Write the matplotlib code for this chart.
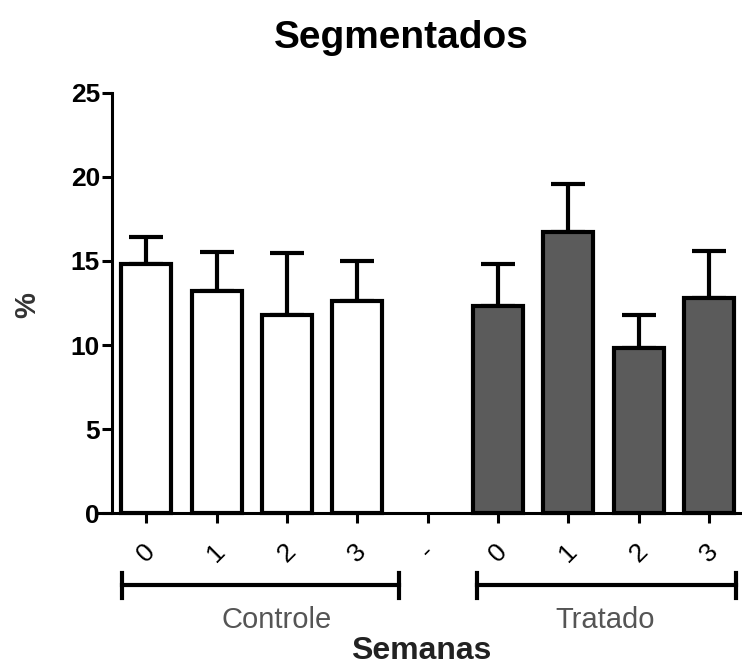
import matplotlib.pyplot as plt
import matplotlib.transforms as mtransforms

plt.rcParams['font.family'] = ['Liberation Sans', 'DejaVu Sans']

# data
semanas    = ['0', '1', '2', '3']
controle   = [14.8, 13.2, 11.8, 12.6]
controle_e = [1.6, 2.35, 3.7, 2.4]
tratado    = [12.3, 16.7, 9.8, 12.8]
tratado_e  = [2.5, 2.9, 2.0, 2.8]
tick_labels = semanas + ['-'] + semanas
yticks = [0, 5, 10, 15, 20, 25]

fig = plt.figure(figsize=(7.42, 6.66), dpi=100)
ax = fig.add_axes([0.1307, 0.2297, 0.8693, 0.6307])

# spine position first: moving it resets the ticks
for s in ['top', 'right']:
    ax.spines[s].set_visible(False)
ax.spines['left'].set_position(('data', -0.48))
ax.spines['left'].set_linewidth(2.2)
ax.spines['bottom'].set_linewidth(2.2)

xc = list(range(len(controle)))
xt = [len(controle) + 1 + i for i in range(len(tratado))]

ax.bar(xc, controle, width=0.71, color='white', edgecolor='black', linewidth=3, clip_on=False, zorder=3)
ax.bar(xt, tratado, width=0.71, color='#5b5b5b', edgecolor='black', linewidth=3, clip_on=False, zorder=3)
ax.errorbar(xc, controle, yerr=[[0] * 4, controle_e], fmt='none', ecolor='black',
            elinewidth=3, capsize=12, capthick=3, zorder=2)
ax.errorbar(xt, tratado, yerr=[[0] * 4, tratado_e], fmt='none', ecolor='black',
            elinewidth=3, capsize=12, capthick=3, zorder=2)

ax.set_xlim(-0.7, 8.47)
ax.set_ylim(0, 25)
ax.set_yticks(yticks, labels=[str(v) for v in yticks], fontweight='bold', fontsize=19)
ax.set_xticks(range(len(tick_labels)), labels=tick_labels, rotation=45, ha='center', fontsize=19)
ax.tick_params(axis='y', width=2.2, length=7, pad=2)
ax.tick_params(axis='x', width=2.2, length=7, pad=12)

fig.text(401 / 742, 1 - 38 / 666, 'Segmentados', ha='center', va='center',
         fontsize=28, fontweight='bold')
fig.text(27 / 742, 1 - 305 / 666, '%', ha='center', va='center', rotation=90,
         fontsize=21, fontweight='bold', color='#333333')

# group brackets under the axis
tr = mtransforms.blended_transform_factory(ax.transData, fig.transFigure)
yb, y0, y1 = 1 - 585 / 666, 1 - 598 / 666, 1 - 573 / 666
for a, b in [(-0.34, 3.6), (4.7, 8.38)]:
    ax.plot([a, b], [yb, yb], color='black', lw=3, transform=tr, clip_on=False)
    ax.plot([a, a], [y0, y1], color='black', lw=3, transform=tr, clip_on=False)
    ax.plot([b, b], [y0, y1], color='black', lw=3, transform=tr, clip_on=False)

fig.text(277 / 742, 1 - 620 / 666, 'Controle', ha='center', va='center',
         fontsize=21, color='#555555')
fig.text(605 / 742, 1 - 620 / 666, 'Tratado', ha='center', va='center',
         fontsize=21, color='#555555')
fig.text(421 / 742, 1 - 651 / 666, 'Semanas', ha='center', va='center',
         fontsize=23, fontweight='bold', color='#222222')

fig.savefig('out.png', dpi=100)
